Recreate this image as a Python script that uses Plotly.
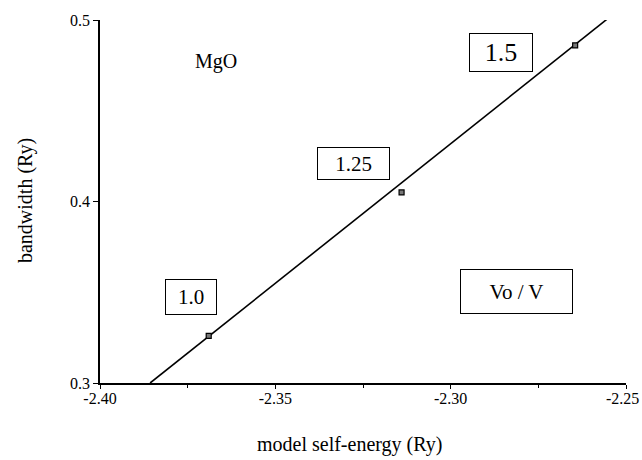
import plotly.graph_objects as go

# data
self_energy = [-2.369, -2.314, -2.2645]
bandwidth = [0.326, 0.405, 0.486]
volume_ratio = ["1.0", "1.25", "1.5"]
fit_x = [-2.3857, -2.2546]
fit_y = [0.300, 0.5017]
x_ticks = [-2.40, -2.35, -2.30, -2.25]
x_tick_labels = ["-2.40", "-2.35", "-2.30", "-2.25"]
y_ticks = [0.3, 0.4, 0.5]
y_tick_labels = ["0.3", "0.4", "0.5"]

FONT = "Liberation Serif, Times New Roman, serif"

fig = go.Figure()
fig.add_trace(go.Scatter(x=fit_x, y=fit_y, mode="lines",
                         line=dict(color="black", width=1.6),
                         showlegend=False, hoverinfo="skip"))
fig.add_trace(go.Scatter(x=self_energy, y=bandwidth, mode="markers",
                         marker=dict(symbol="square", size=5, color="#777",
                                     line=dict(color="black", width=1.2)),
                         showlegend=False))

# boxed labels: (text, paper x, paper y, width, height, font size)
boxes = [
    (volume_ratio[0], 0.1245, 0.186, 50, 34, 21),
    (volume_ratio[1], 0.481, 0.606, 71, 31, 21),
    (volume_ratio[2], 0.824, 0.964, 62, 37, 26),
    ("Vo / V", 0.899, 0.190, 111, 43, 21),
]
for txt, px, py, w, h, fs in boxes:
    fig.add_annotation(x=px, y=py, xref="paper", yref="paper", text=txt,
                       showarrow=False, width=w, height=h, borderpad=0,
                       bordercolor="black", borderwidth=1, bgcolor="white",
                       align="center", valign="middle",
                       font=dict(family=FONT, size=fs, color="black"))

fig.add_annotation(x=0.177, y=0.923, xref="paper", yref="paper", text="MgO",
                   showarrow=False, font=dict(family=FONT, size=20, color="black"))

# axis titles
fig.add_annotation(x=0.475, y=-0.17, xref="paper", yref="paper", yanchor="middle",
                   text="model self-energy (Ry)", showarrow=False,
                   font=dict(family=FONT, size=20, color="black"))
fig.add_annotation(x=-0.1426, y=0.504, xref="paper", yref="paper",
                   xanchor="center", yanchor="middle",
                   text="bandwidth (Ry)", showarrow=False, textangle=-90,
                   font=dict(family=FONT, size=20, color="black"))

# last x tick label sits flush with the right edge of the picture
shown_x_labels = x_tick_labels[:-1] + [""]
fig.add_annotation(x=1.0, y=-0.044, xref="paper", yref="paper",
                   xanchor="right", yanchor="middle", xshift=15,
                   text=x_tick_labels[-1], showarrow=False,
                   font=dict(family=FONT, size=16, color="black"))

fig.update_layout(
    width=642, height=460,
    margin=dict(l=100, r=16, t=20, b=77),
    plot_bgcolor="white", paper_bgcolor="white",
    font=dict(family=FONT, size=17, color="black"),
    xaxis=dict(range=[-2.40, -2.25], tickvals=x_ticks, ticktext=shown_x_labels,
               automargin=False, ticklabeloverflow="allow", ticklabelstandoff=-4,
               showgrid=False, zeroline=False, showline=True, linecolor="black",
               linewidth=1.5, ticks="outside", ticklen=4, tickcolor="black",
               minor=dict(dtick=0.025, ticks="outside", ticklen=3, tickcolor="black",
                          showgrid=False),
               tickfont=dict(family=FONT, size=16)),
    yaxis=dict(range=[0.3, 0.5], tickvals=y_ticks, ticktext=y_tick_labels,
               automargin=False, ticklabeloverflow="allow",
               showgrid=False, zeroline=False, showline=True, linecolor="black",
               linewidth=1.5, ticks="outside", ticklen=5, tickcolor="black",
               tickfont=dict(family=FONT, size=16)),
)

fig.write_html("out.html")
